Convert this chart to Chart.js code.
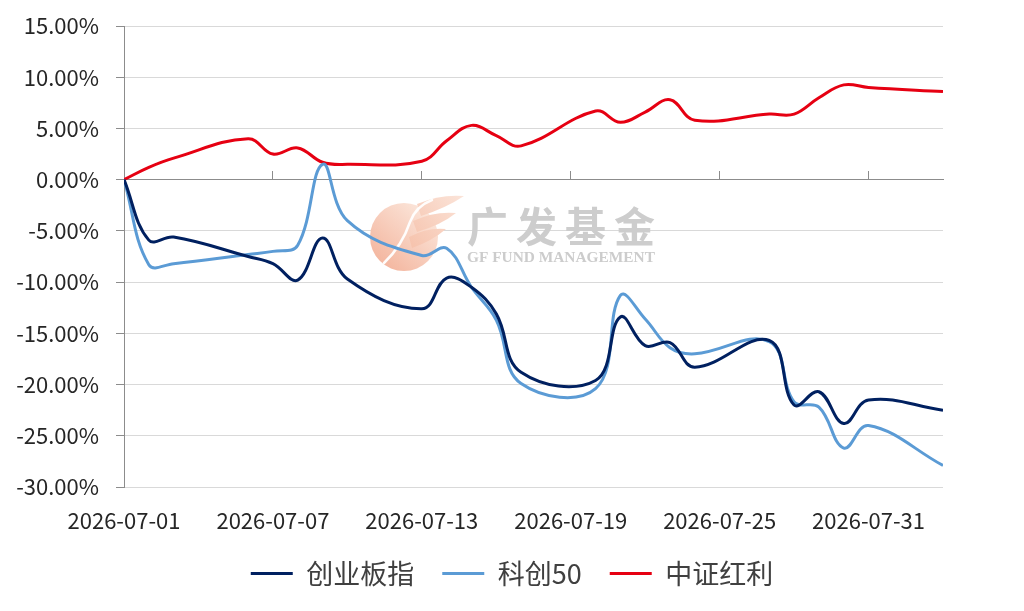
<!DOCTYPE html>
<html>
<head>
<meta charset="utf-8">
<script src="https://cdn.jsdelivr.net/npm/chart.js@4.4.1/dist/chart.umd.min.js"></script>
<style>
  html, body { margin: 0; padding: 0; background: #ffffff; }
  #wrap { width: 1024px; height: 611px; }
</style>
</head>
<body>
<div id="wrap"><canvas id="perfChart" width="1024" height="611"></canvas></div>
<script>
// trading days shown on a calendar axis
const dates = [
	"2026-07-01", "2026-07-02", "2026-07-03", "2026-07-06", "2026-07-07",
	"2026-07-08", "2026-07-09", "2026-07-10", "2026-07-13", "2026-07-14",
	"2026-07-15", "2026-07-16", "2026-07-17", "2026-07-20", "2026-07-21",
	"2026-07-22", "2026-07-23", "2026-07-24", "2026-07-27", "2026-07-28",
	"2026-07-29", "2026-07-30", "2026-07-31", "2026-08-03",
];
// cumulative return, %
const chinext = [
	0, -5.9, -5.6, -7.5, -8.2, -9.8, -5.7, -9.7, -12.6, -9.6,
	-10.5, -13.1, -18.8, -19.6, -13.4, -16.2, -15.9, -18.3, -15.7, -22.0,
	-20.7, -23.8, -21.5, -22.5,
];
const star50 = [
	0, -8.3, -8.2, -7.3, -7.0, -6.4, 1.5, -4.0, -7.4, -6.7,
	-10.5, -13.7, -19.9, -20.4, -11.3, -13.6, -16.4, -17.0, -15.8, -21.7,
	-22.2, -26.2, -24.0, -27.9,
];
const dividend = [
	0, 1.2, 2.1, 4.0, 2.5, 3.1, 1.7, 1.5, 1.8, 3.8,
	5.3, 4.3, 3.3, 6.7, 5.6, 6.6, 7.8, 5.8, 6.4, 6.4,
	8.0, 9.25, 9.0, 8.6,
];
const seriesNames = ["创业板指", "科创50", "中证红利"];
const seriesColors = ["#002060", "#5b9bd5", "#e60012"];

const DAY = 86400000;
const startMs = Date.parse(dates[0]);
const dayOffsets = dates.map((d) => (Date.parse(d) - startMs) / DAY);
const lastDay = dayOffsets[dayOffsets.length - 1];

function toPoints(values) {
	return values.map((v, i) => ({ x: dayOffsets[i], y: v }));
}
function dayLabel(v) {
	return new Date(startMs + v * DAY).toISOString().slice(0, 10);
}

const FONT = '"Noto Sans CJK SC", "Noto Sans", sans-serif';

function feather(ctx, a, tip, b, c) {
	ctx.beginPath();
	ctx.moveTo(a[0], a[1]);
	ctx.quadraticCurveTo((a[0] + tip[0]) / 2, tip[1] - 2, tip[0], tip[1]);
	ctx.quadraticCurveTo(b[0], b[1], c[0], c[1]);
	ctx.closePath();
	ctx.fill();
}

// faint company watermark behind the lines
const watermark = {
	id: "watermark",
	beforeDatasetsDraw(chart) {
		const ctx = chart.ctx;
		ctx.save();
		const g = ctx.createLinearGradient(440, 200, 378, 270);
		g.addColorStop(0, "#fdf0e7");
		g.addColorStop(1, "#f3b29a");
		ctx.fillStyle = g;
		ctx.beginPath();
		ctx.arc(404, 237, 34, 0, Math.PI * 2);
		ctx.fill();
		// feathers of the flag
		const fg = ctx.createLinearGradient(465, 196, 410, 245);
		fg.addColorStop(0, "#fbe4d9");
		fg.addColorStop(1, "#f6c3ad");
		ctx.fillStyle = fg;
		feather(ctx, [417, 204], [464, 196], [446, 208], [421, 216]);
		feather(ctx, [413, 221], [456, 213], [441, 225], [417, 232]);
		feather(ctx, [409, 237], [446, 229], [432, 241], [412, 248]);
		// white F stem
		ctx.strokeStyle = "rgba(255,255,255,0.95)";
		ctx.lineWidth = 2.5;
		ctx.lineCap = "round";
		ctx.beginPath();
		ctx.moveTo(384, 263);
		ctx.quadraticCurveTo(402, 246, 410, 222);
		ctx.quadraticCurveTo(416, 206, 432, 200);
		ctx.stroke();
		// company name
		ctx.fillStyle = "#cdcdcd";
		ctx.font = "bold 41px " + FONT;
		ctx.textBaseline = "middle";
		const name = "广发基金";
		for (let i = 0; i < name.length; i++) {
			ctx.fillText(name[i], 467 + i * 49, 226);
		}
		const en = "GF FUND MANAGEMENT";
		ctx.font = 'bold 16px "Liberation Serif", serif';
		const w = ctx.measureText(en).width;
		const size = 16 * 188 / w;
		ctx.font = "bold " + size.toFixed(2) + 'px "Liberation Serif", serif';
		ctx.textBaseline = "alphabetic";
		ctx.fillStyle = "#cccccc";
		ctx.fillText(en, 467, 262);
		ctx.restore();
	},
};

new Chart(document.getElementById("perfChart"), {
	type: "line",
	data: {
		datasets: [chinext, star50, dividend].map((vals, i) => ({
			label: seriesNames[i],
			data: toPoints(vals),
			borderColor: seriesColors[i],
			backgroundColor: seriesColors[i],
			borderWidth: 3,
			pointRadius: 0,
			pointStyle: "line",
			tension: 0.4,
			fill: false,
		})),
	},
	options: {
		responsive: false,
		animation: false,
		devicePixelRatio: 1,
		layout: {
			padding: { top: 26, right: 0, bottom: 14, left: 0 },
		},
		scales: {
			x: {
				type: "linear",
				position: "bottom",
				min: 0,
				max: lastDay,
				afterFit(scale) {
					scale.height = 45;
				},
				ticks: {
					stepSize: 6,
					includeBounds: false,
					maxRotation: 0,
					autoSkip: false,
					padding: 20,
					color: "#262626",
					font: { family: FONT, size: 22 },
					callback: (v) => dayLabel(v),
				},
				grid: { display: false, drawTicks: false },
				border: { display: false },
			},
			x0: {
				type: "linear",
				position: { y: 0 },
				min: 0,
				max: lastDay,
				ticks: { stepSize: 6, includeBounds: false, display: false },
				grid: {
					drawOnChartArea: false,
					drawTicks: true,
					tickLength: -9,
					tickColor: "#8c8c8c",
				},
				border: { display: true, color: "#8c8c8c", width: 1 },
			},
			y: {
				min: -30,
				max: 15,
				afterFit(scale) {
					scale.width = 124;
					scale.paddingTop = 0;
					scale.paddingBottom = 0;
				},
				ticks: {
					stepSize: 5,
					padding: 17,
					color: "#262626",
					font: { family: FONT, size: 22 },
					callback: (v) => v.toFixed(2) + "%",
				},
				grid: {
					color: "#d9d9d9",
					tickLength: 8,
					tickColor: "#8c8c8c",
				},
				border: { display: true, color: "#8c8c8c", width: 1 },
			},
			// empty right margin, keeps the legend centred on the page
			yRight: {
				position: "right",
				afterFit(scale) {
					scale.width = 81;
					scale.paddingTop = 0;
					scale.paddingBottom = 0;
				},
				ticks: { display: false },
				grid: { display: false, drawOnChartArea: false },
				border: { display: false },
			},
		},
		plugins: {
			legend: {
				position: "bottom",
				labels: {
					usePointStyle: true,
					pointStyle: "line",
					pointStyleWidth: 42,
					padding: 28,
					color: "#404040",
					font: { family: FONT, size: 27 },
				},
			},
			tooltip: { enabled: false },
		},
	},
	plugins: [watermark],
});
</script>
</body>
</html>
